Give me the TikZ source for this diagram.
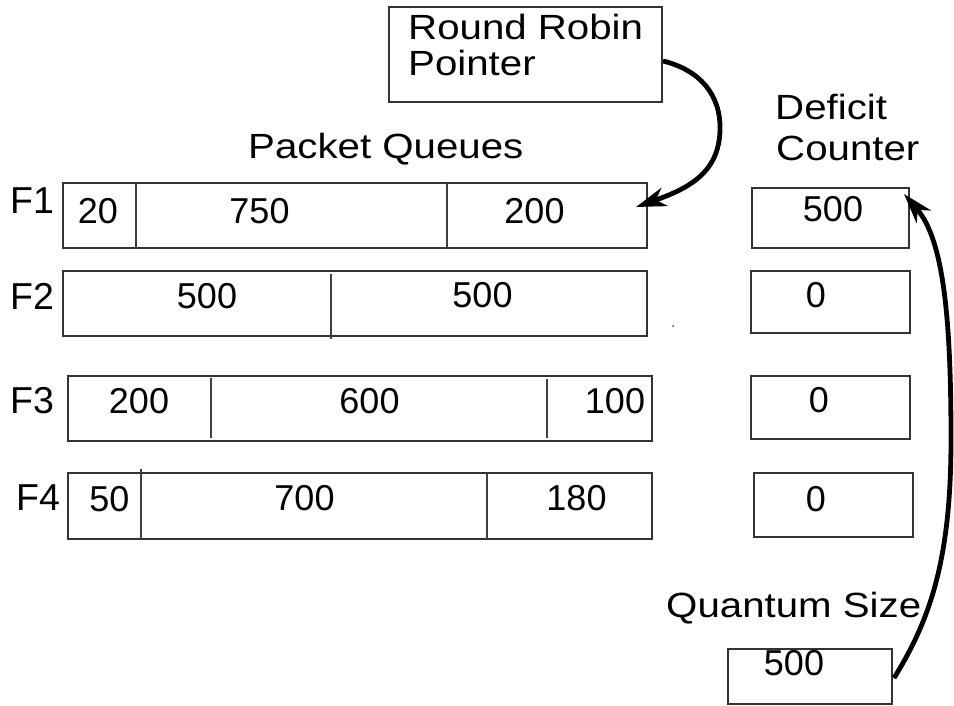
\documentclass[tikz,border=0pt]{standalone}
\usepackage{fontspec}
\setmainfont{Liberation Sans}
\newfontfamily\widefont[FakeStretch=1.15]{Liberation Sans}
\usetikzlibrary{arrows.meta}
\begin{document}
\begin{tikzpicture}[x=1pt,y=-1pt,
  cell/.style={draw=black!80, line width=1.3pt, rectangle, inner sep=0pt},
  num/.style={font=\fontsize{36}{40}\selectfont, inner sep=0pt, anchor=base},
  lbl/.style={font=\widefont\fontsize{35}{36}\selectfont, inner sep=0pt, anchor=base west},
  flbl/.style={font=\fontsize{37.5}{40}\selectfont, inner sep=0pt, anchor=base west},
  sepline/.style={draw=black!75, line width=1.2pt},
  ptr/.style={line width=4.8pt, -{Stealth[length=30pt,width=19pt,inset=9pt]}}]
\useasboundingbox (0,0) rectangle (954,706);

% round robin pointer
\node[cell, minimum width=273pt, minimum height=95pt] (rr) at (525.5,54.5) {};
\node[lbl] (rrt1) at (408,40) {Round Robin};
\node[lbl] (rrt2) at (408,76) {Pointer};

% headings
\node[lbl] (pq) at (248,159) {Packet Queues};
\node[lbl] (dc1) at (775,120) {Deficit};
\node[lbl] (dc2) at (776,161) {Counter};
\node[lbl] (qsl) at (666,617) {Quantum Size};

% flow labels
\node[flbl] (f1) at (10,214) {F1};
\node[flbl] (f2) at (10,309) {F2};
\node[flbl] (f3) at (10,413) {F3};
\node[flbl] (f4) at (16,510) {F4};

% packet queues
\node[cell, minimum width=584pt, minimum height=65pt] (q1) at (355,215.5) {};
\node[cell, minimum width=584pt, minimum height=65pt] (q2) at (355,303.5) {};
\node[cell, minimum width=584pt, minimum height=65pt] (q3) at (360,408.5) {};
\node[cell, minimum width=584pt, minimum height=66pt] (q4) at (360,506) {};

\draw[sepline] (136,183) -- (136,248);
\draw[sepline] (447,183) -- (447,248);
\draw[sepline] (331,274) -- (331,339);
\draw[sepline] (211,378) -- (211,438);
\draw[sepline] (547,379) -- (547,438);
\draw[sepline] (141,469) -- (141,539);
\draw[sepline] (487,473) -- (487,539);

\node[num] (p11) at (98,223) {20};
\node[num] (p12) at (259.5,223) {750};
\node[num] (p13) at (534.5,223) {200};
\node[num] (p21) at (207,308) {500};
\node[num] (p22) at (482.5,307) {500};
\node[num] (p31) at (139,413) {200};
\node[num] (p32) at (369.5,413) {600};
\node[num] (p33) at (615,413) {100};
\node[num] (p41) at (109.5,511) {50};
\node[num] (p42) at (304.5,510) {700};
\node[num] (p43) at (576.5,510) {180};

\fill[black!70] (673,326) circle (1pt);

% deficit counters
\node[cell, minimum width=157pt, minimum height=60pt] (d1) at (830.5,218) {};
\node[cell, minimum width=159pt, minimum height=62pt] (d2) at (830.5,302) {};
\node[cell, minimum width=159pt, minimum height=63pt] (d3) at (830.5,407.5) {};
\node[cell, minimum width=159pt, minimum height=64pt] (d4) at (833.5,505) {};
\node[num] (v1) at (833,222) {500};
\node[num] (v2) at (816,307) {0};
\node[num] (v3) at (819,412) {0};
\node[num] (v4) at (816,511) {0};

% quantum
\node[cell, minimum width=164pt, minimum height=55pt] (qs) at (810,676.5) {};
\node[num] (qv) at (794,675) {500};

% connectors
\coordinate (rrout) at (663,61);
\coordinate (f1in) at (636,207);
\draw[ptr] (rrout) .. controls (700,70) and (721,95) .. (720,130)
  .. controls (719,172) and (690,188) .. (f1in);
\coordinate (qsout) at (894,678);
\coordinate (d1in) at (904,194);
\draw[ptr] (qsout) .. controls (930,620) and (951,560) .. (951,440)
  .. controls (951,320) and (944,240) .. (d1in);
\end{tikzpicture}
\end{document}
